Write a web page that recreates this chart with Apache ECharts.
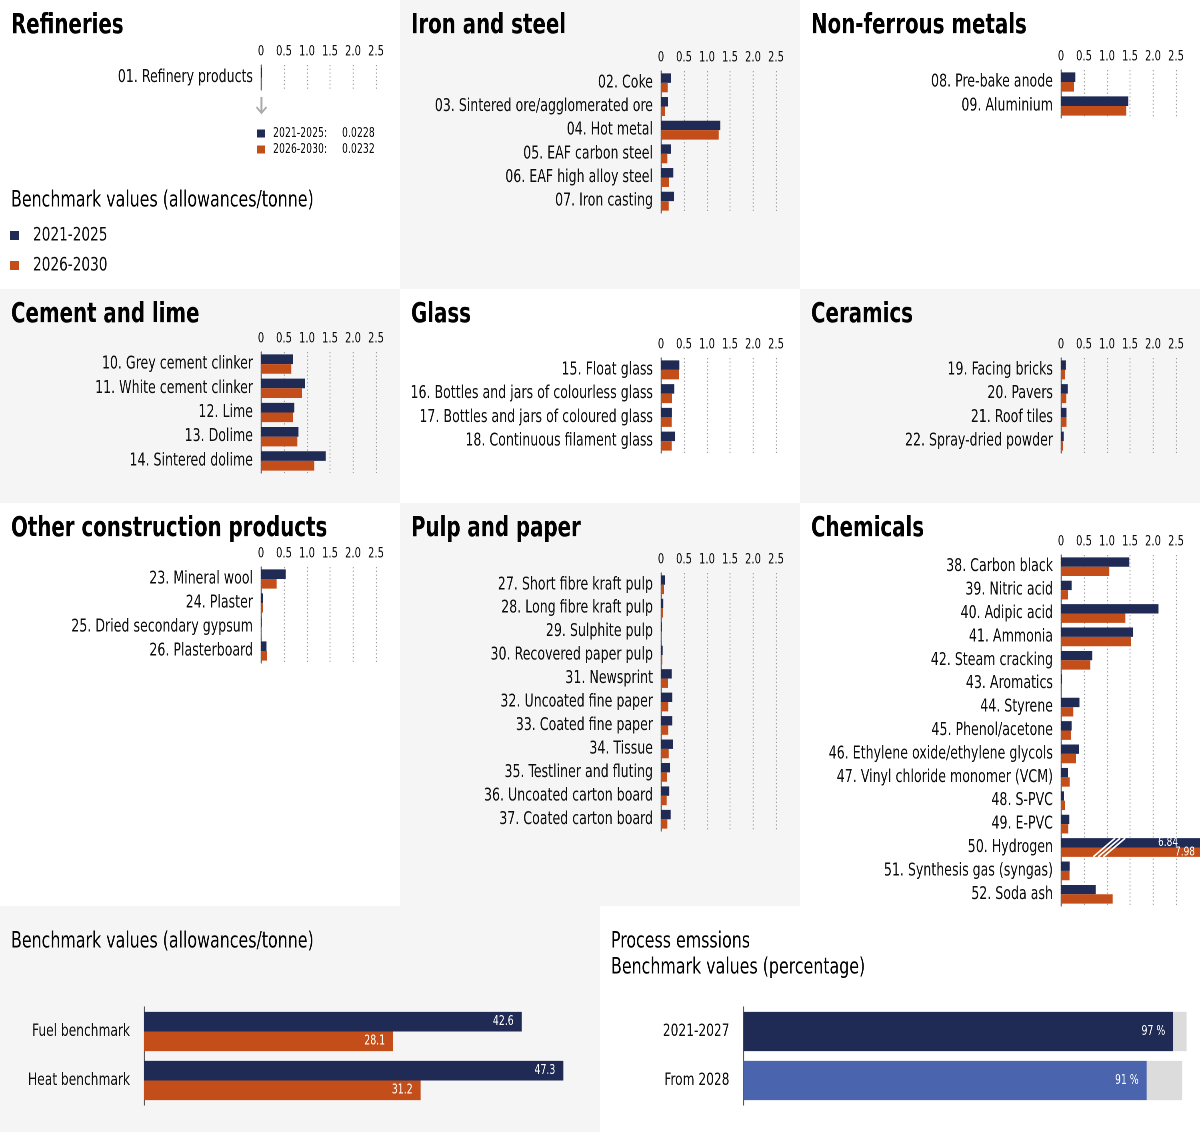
<!DOCTYPE html>
<html>
<head>
<meta charset="utf-8">
<script src="https://cdn.jsdelivr.net/npm/echarts@6/dist/echarts.min.js"></script>
<style>
  html, body { margin: 0; padding: 0; background: #fff; overflow: hidden; }
  #wrap { width: 1200px; height: 1132px; overflow: hidden; position: relative; }
  /* the original uses an extra condensed face, so the chart is laid out wider and squeezed */
  #chart { width: 1500px; height: 1132px; transform: scaleX(0.8); transform-origin: 0 0; }
</style>
</head>
<body>
<div id="wrap"><div id="chart"></div></div>
<script>
// benchmark values, allowances per tonne
const seriesNames = ['2021-2025', '2026-2030']
const tickLabels = ['0', '0.5', '1.0', '1.5', '2.0', '2.5']

const refineryCats = ['01. Refinery products']
const refinery2125 = [0.0228]
const refinery2630 = [0.0232]

const ironCats = ['02. Coke', '03. Sintered ore/agglomerated ore', '04. Hot metal', '05. EAF carbon steel', '06. EAF high alloy steel', '07. Iron casting']
const iron2125 = [0.217, 0.152, 1.29, 0.217, 0.268, 0.283]
const iron2630 = [0.145, 0.087, 1.254, 0.138, 0.174, 0.167]

const metalCats = ['08. Pre-bake anode', '09. Aluminium']
const metal2125 = [0.312, 1.464]
const metal2630 = [0.283, 1.42]

const cementCats = ['10. Grey cement clinker', '11. White cement clinker', '12. Lime', '13. Dolime', '14. Sintered dolime']
const cement2125 = [0.693, 0.957, 0.725, 0.815, 1.406]
const cement2630 = [0.659, 0.891, 0.696, 0.79, 1.159]

const glassCats = ['15. Float glass', '16. Bottles and jars of colourless glass', '17. Bottles and jars of coloured glass', '18. Continuous filament glass']
const glass2125 = [0.399, 0.29, 0.237, 0.309]
const glass2630 = [0.396, 0.239, 0.232, 0.232]

const ceramicCats = ['19. Facing bricks', '20. Pavers', '21. Roof tiles', '22. Spray-dried powder']
const ceramic2125 = [0.106, 0.146, 0.12, 0.058]
const ceramic2630 = [0.087, 0.116, 0.12, 0.043]

const otherCats = ['23. Mineral wool', '24. Plaster', '25. Dried secondary gypsum', '26. Plasterboard']
const other2125 = [0.536, 0.048, 0.015, 0.12]
const other2630 = [0.34, 0.047, 0.013, 0.13]

const pulpCats = ['27. Short fibre kraft pulp', '28. Long fibre kraft pulp', '29. Sulphite pulp', '30. Recovered paper pulp', '31. Newsprint', '32. Uncoated fine paper', '33. Coated fine paper', '34. Tissue', '35. Testliner and fluting', '36. Uncoated carton board', '37. Coated carton board']
const pulp2125 = [0.087, 0.05, 0.02, 0.036, 0.232, 0.246, 0.246, 0.26, 0.196, 0.18, 0.21]
const pulp2630 = [0.065, 0.043, 0.015, 0.03, 0.152, 0.159, 0.159, 0.167, 0.13, 0.123, 0.138]

const chemCats = ['38. Carbon black', '39. Nitric acid', '40. Adipic acid', '41. Ammonia', '42. Steam cracking', '43. Aromatics', '44. Styrene', '45. Phenol/acetone', '46. Ethylene oxide/ethylene glycols', '47. Vinyl chloride monomer (VCM)', '48. S-PVC', '49. E-PVC', '50. Hydrogen', '51. Synthesis gas (syngas)', '52. Soda ash']
const chem2125 = [1.485, 0.23, 2.12, 1.57, 0.681, 0.0228, 0.401, 0.23, 0.389, 0.152, 0.065, 0.181, 6.84, 0.187, 0.754]
const chem2630 = [1.05, 0.152, 1.399, 1.522, 0.638, 0.0213, 0.268, 0.217, 0.326, 0.188, 0.087, 0.159, 7.98, 0.185, 1.123]

const benchCats = ['Fuel benchmark', 'Heat benchmark']
const bench2125 = [42.6, 47.3]
const bench2630 = [28.1, 31.2]

const processCats = ['2021-2027', 'From 2028']
const processShare = [97, 91]
const processRest = [3, 8]

const SQUEEZE = 0.8
const X = v => v / SQUEEZE // page px -> chart px
const LW = 1 / SQUEEZE // keeps vertical lines 1px wide on the page

const FONT = '"DejaVu Sans Condensed", "DejaVu Sans", sans-serif'
const NAVY = '#1f2a55'
const ORANGE = '#c44e19'
const LIGHT = '#4a65ad'
const TEXT = '#0d0d0d'
const PANEL_BG = '#f5f5f5'

const panels = [
  { title: 'Refineries', cats: refineryCats, a: refinery2125, b: refinery2630, px: 0, py: 0, top: 65, height: 25 },
  { title: 'Iron and steel', cats: ironCats, a: iron2125, b: iron2630, px: 400, py: 0, top: 71, height: 142 },
  { title: 'Non-ferrous metals', cats: metalCats, a: metal2125, b: metal2630, px: 800, py: 0, top: 70, height: 48 },
  { title: 'Cement and lime', cats: cementCats, a: cement2125, b: cement2630, px: 0, py: 289, top: 352, height: 121 },
  { title: 'Glass', cats: glassCats, a: glass2125, b: glass2630, px: 400, py: 289, top: 358, height: 95 },
  { title: 'Ceramics', cats: ceramicCats, a: ceramic2125, b: ceramic2630, px: 800, py: 289, top: 358, height: 95 },
  { title: 'Other construction products', cats: otherCats, a: other2125, b: other2630, px: 0, py: 503, top: 567, height: 96 },
  { title: 'Pulp and paper', cats: pulpCats, a: pulp2125, b: pulp2630, px: 400, py: 503, top: 573, height: 258 },
  { title: 'Chemicals', cats: chemCats, a: chem2125, b: chem2630, px: 800, py: 503, top: 555, height: 351 }
]

const hydrogenIdx = chemCats.indexOf('50. Hydrogen')

const grid = []
const xAxis = []
const yAxis = []
const series = []

const catAxis = (i, cats, margin, size) => ({
  type: 'category',
  gridIndex: i,
  data: cats,
  inverse: true,
  axisLine: { show: true, lineStyle: { color: '#555', width: LW } },
  axisTick: { show: false },
  axisLabel: { interval: 0, fontSize: size, color: TEXT, fontFamily: FONT, margin: X(margin), padding: [0, 0, 5, 0] }
})

panels.forEach((p, i) => {
  grid.push({ left: X(p.px + 261), top: p.top, width: X(115), height: p.height, outerBoundsMode: 'none' })
  xAxis.push({
    type: 'value',
    gridIndex: i,
    position: 'top',
    min: 0,
    max: 2.5,
    interval: 0.5,
    axisLine: { show: false },
    axisTick: { show: false },
    axisLabel: {
      fontSize: 14,
      color: TEXT,
      fontFamily: FONT,
      margin: 6,
      formatter: v => tickLabels[Math.round(v / 0.5)]
    },
    splitLine: { show: true, lineStyle: { color: '#9a9a9a', type: [LW, 2 * LW], width: LW } }
  })
  yAxis.push(catAxis(i, p.cats, 8, 17.5))

  const withBreakLabel = (vals, offset) => vals.map((v, k) => {
    if (p.cats === chemCats && k === hydrogenIdx) {
      return {
        value: v,
        label: {
          show: true,
          position: [X(offset), '50%'],
          align: 'right',
          verticalAlign: 'middle',
          color: '#fff',
          fontSize: 12.5,
          fontFamily: FONT,
          formatter: '{c}'
        }
      }
    }
    return v
  })

  series.push({
    type: 'bar',
    name: seriesNames[0],
    xAxisIndex: i,
    yAxisIndex: i,
    data: withBreakLabel(p.a, 117),
    itemStyle: { color: NAVY },
    barGap: '0%',
    barCategoryGap: '20%',
    clip: false,
    silent: true
  })
  series.push({
    type: 'bar',
    name: seriesNames[1],
    xAxisIndex: i,
    yAxisIndex: i,
    data: withBreakLabel(p.b, 134),
    itemStyle: { color: ORANGE },
    barGap: '0%',
    barCategoryGap: '20%',
    clip: false,
    silent: true
  })
})

// bottom left: fuel and heat benchmarks
const benchIdx = panels.length
grid.push({ left: X(144), top: 1007, width: X(443.3), height: 98, outerBoundsMode: 'none' })
xAxis.push({ type: 'value', gridIndex: benchIdx, min: 0, max: 50, show: false })
yAxis.push(catAxis(benchIdx, benchCats, 14, 17))
const benchLabel = { show: true, position: 'insideRight', distance: X(8), color: '#fff', fontSize: 13, fontFamily: FONT }
series.push({
  type: 'bar', name: seriesNames[0], xAxisIndex: benchIdx, yAxisIndex: benchIdx,
  data: bench2125, itemStyle: { color: NAVY }, barGap: '0%', barCategoryGap: '20%', label: benchLabel, silent: true
})
series.push({
  type: 'bar', name: seriesNames[1], xAxisIndex: benchIdx, yAxisIndex: benchIdx,
  data: bench2630, itemStyle: { color: ORANGE }, barGap: '0%', barCategoryGap: '20%', label: benchLabel, silent: true
})

// bottom right: process emissions
const procIdx = benchIdx + 1
grid.push({ left: X(743.5), top: 1007, width: X(443.1), height: 98, outerBoundsMode: 'none' })
xAxis.push({ type: 'value', gridIndex: procIdx, min: 0, max: 100, show: false })
yAxis.push(catAxis(procIdx, processCats, 14, 17))
series.push({
  type: 'bar', name: 'Process emissions', xAxisIndex: procIdx, yAxisIndex: procIdx, stack: 'proc',
  data: processShare,
  itemStyle: { color: p => (p.dataIndex === 0 ? NAVY : LIGHT) },
  barCategoryGap: '20%',
  label: { show: true, position: 'insideRight', distance: X(8), color: '#fff', fontSize: 13, fontFamily: FONT, formatter: '{c} %' },
  silent: true
})
series.push({
  type: 'bar', name: 'rest', xAxisIndex: procIdx, yAxisIndex: procIdx, stack: 'proc',
  data: processRest, itemStyle: { color: '#dcdcdc' }, barCategoryGap: '20%', silent: true
})

const chart = echarts.init(document.getElementById('chart'), null, { renderer: 'canvas', devicePixelRatio: 2 })

chart.setOption({
  animation: false,
  textStyle: { fontFamily: FONT },
  grid: grid,
  xAxis: xAxis,
  yAxis: yAxis,
  legend: [
    {
      data: seriesNames,
      orient: 'vertical',
      left: X(10),
      top: 226,
      padding: 0,
      icon: 'rect',
      itemWidth: X(9),
      itemHeight: 9,
      itemGap: 11,
      selectedMode: false,
      textStyle: { fontSize: 19, color: TEXT, fontFamily: FONT, padding: [0, 0, 0, X(14) - 5] }
    },
    {
      data: seriesNames,
      orient: 'vertical',
      left: X(257),
      top: 127,
      padding: 0,
      icon: 'rect',
      itemWidth: X(8),
      itemHeight: 8,
      itemGap: 3,
      selectedMode: false,
      textStyle: { fontSize: 13, color: TEXT, fontFamily: FONT, padding: [0, 0, 0, X(8) - 5] },
      formatter: name => name + ':     ' + (name === seriesNames[0] ? refinery2125[0] : refinery2630[0])
    }
  ],
  series: series
})

// backgrounds, headings and decorations
const text = (str, x, y, size, weight) => ({
  type: 'text',
  z: 10,
  style: { text: str, x: X(x), y: y, fill: '#000', fontSize: size, fontWeight: weight || 'normal', fontFamily: FONT, verticalAlign: 'middle' }
})

const bgRects = [[400, 0, 400, 289], [0, 289, 400, 214], [800, 289, 400, 214], [400, 503, 400, 403], [0, 906, 600, 226]]
const elements = bgRects.map(r => ({
  type: 'rect', z: -100, shape: { x: X(r[0]), y: r[1], width: X(r[2]), height: r[3] }, style: { fill: PANEL_BG }
}))

panels.forEach(p => {
  elements.push(text(p.title, p.px + 11, p.py === 0 ? 26 : p.py + 26, 27.5, 'bold'))
})
elements.push(text('Benchmark values (allowances/tonne)', 11, 201, 22))
elements.push(text('Benchmark values (allowances/tonne)', 11, 942, 22))
elements.push(text('Process emssions', 611, 942, 22))
elements.push(text('Benchmark values (percentage)', 611, 968, 22))

// grey arrow under the refinery bar
elements.push({ type: 'line', z: 10, shape: { x1: X(261.5), y1: 97, x2: X(261.5), y2: 113 }, style: { stroke: '#aaa', lineWidth: 2 * LW } })
elements.push({ type: 'polyline', z: 10, shape: { points: [[X(256.5), 107], [X(261.5), 113], [X(266.5), 107]] }, style: { stroke: '#aaa', lineWidth: 2, fill: null } })

// break marks on the hydrogen bars
const chemIdx = panels.length - 1
const bx = chart.convertToPixel({ xAxisIndex: chemIdx }, 0.7)
const by = chart.convertToPixel({ yAxisIndex: chemIdx }, hydrogenIdx)
const half = panels[chemIdx].height / chemCats.length * 0.8 / 2
for (let k = 0; k < 3; k++) {
  elements.push({
    type: 'line',
    z: 10,
    shape: { x1: bx + X(k * 5), y1: by + half, x2: bx + X(k * 5 + 22), y2: by - half },
    style: { stroke: '#fff', lineWidth: 1.8 }
  })
}

chart.setOption({ graphic: { elements: elements } })
</script>
</body>
</html>
